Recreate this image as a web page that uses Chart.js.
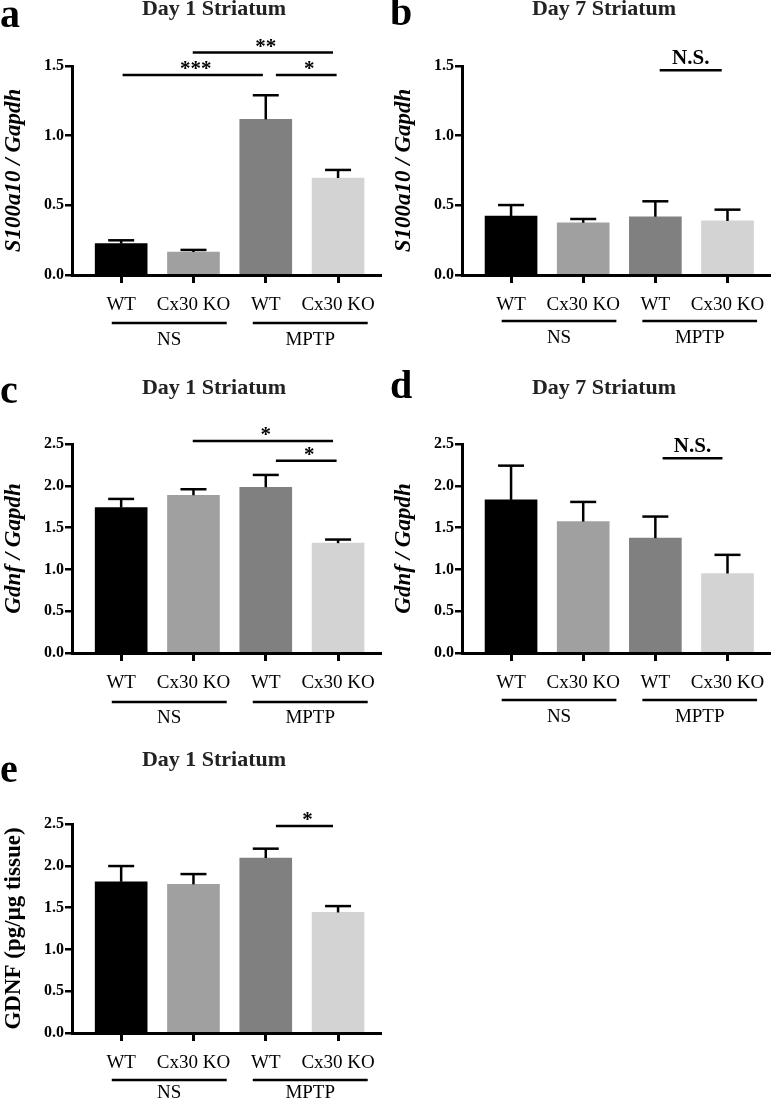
<!DOCTYPE html>
<html><head><meta charset="utf-8">
<script src="https://cdn.jsdelivr.net/npm/chart.js@4.4.1/dist/chart.umd.min.js"></script>
<style>
html,body{margin:0;padding:0;background:#fff;width:776px;height:1100px;overflow:hidden;position:relative}
.p{position:absolute}
canvas{display:block}
</style></head><body>
<div class="p" style="left:0;top:0"><canvas id="ca" width="390" height="360"></canvas></div>
<div class="p" style="left:390px;top:0"><canvas id="cb" width="386" height="360"></canvas></div>
<div class="p" style="left:0;top:370px"><canvas id="cc" width="390" height="360"></canvas></div>
<div class="p" style="left:390px;top:370px"><canvas id="cd" width="386" height="360"></canvas></div>
<div class="p" style="left:0;top:740px"><canvas id="ce" width="390" height="360"></canvas></div>
<script>
// ---- data ----
const categories = ['WT', 'Cx30 KO', 'WT', 'Cx30 KO'];
const groupLabels = ['NS', 'MPTP'];
const barColors = ['#000000', '#a0a0a0', '#808080', '#d3d3d3'];

const aMeans = [0.225, 0.165, 1.117, 0.696];
const aSem   = [0.024, 0.015, 0.173, 0.058];
const bMeans = [0.423, 0.375, 0.418, 0.388];
const bSem   = [0.079, 0.027, 0.111, 0.081];
const cMeans = [1.739, 1.887, 1.983, 1.314];
const cSem   = [0.104, 0.072, 0.147, 0.043];
const dMeans = [1.831, 1.572, 1.374, 0.951];
const dSem   = [0.410, 0.235, 0.258, 0.223];
const eMeans = [1.809, 1.778, 2.093, 1.442];
const eSem   = [0.188, 0.123, 0.112, 0.076];

const ticksS100 = [0, 0.5, 1.0, 1.5];
const ticksGdnf = [0, 0.5, 1.0, 1.5, 2.0, 2.5];

// significance annotations (category-index units, value units)
const sigA = [
  {x1: 0.02, x2: 1.96, y: 1.435, label: '***'},
  {x1: 0.99, x2: 2.93, y: 1.596, label: '**'},
  {x1: 2.14, x2: 2.98, y: 1.435, label: '*'}
];
const sigB = [{x1: 2.06, x2: 2.92, y: 1.469, label: 'N.S.'}];
const sigC = [
  {x1: 0.99, x2: 2.93, y: 2.536, label: '*'},
  {x1: 2.14, x2: 2.98, y: 2.30, label: '*'}
];
const sigD = [{x1: 2.10, x2: 2.93, y: 2.329, label: 'N.S.'}];
const sigE = [{x1: 2.14, x2: 2.93, y: 2.476, label: '*'}];
// group underline spans (category-index units)
const groupSpans = [[-0.13, 1.46], [1.82, 3.41]];

const SERIF = '"Liberation Serif", "Times New Roman", serif';

const decor = {
  id: 'decor',
  afterDraw(chart, args, o) {
    const ctx = chart.ctx, xs = chart.scales.x, ys = chart.scales.y, ca = chart.chartArea;
    const ds = chart.data.datasets[0];
    ctx.save();
    ctx.strokeStyle = '#000'; ctx.fillStyle = '#000'; ctx.lineCap = 'butt';
    // error bars (upper SEM)
    chart.getDatasetMeta(0).data.forEach((el, i) => {
      const top = ys.getPixelForValue(ds.data[i].y + ds.sem[i]);
      ctx.lineWidth = 2.5;
      ctx.beginPath(); ctx.moveTo(el.x, el.y); ctx.lineTo(el.x, top); ctx.stroke();
      ctx.beginPath(); ctx.moveTo(el.x - 13, top); ctx.lineTo(el.x + 13, top); ctx.stroke();
    });
    // significance
    ctx.textAlign = 'center'; ctx.textBaseline = 'alphabetic';
    o.sig.forEach(s => {
      const y = ys.getPixelForValue(s.y);
      const xa = xs.getPixelForValue(s.x1), xb = xs.getPixelForValue(s.x2);
      ctx.lineWidth = 2.5;
      ctx.beginPath(); ctx.moveTo(xa, y); ctx.lineTo(xb, y); ctx.stroke();
      ctx.font = 'bold 21px ' + SERIF;
      ctx.fillText(s.label, (xa + xb) / 2 + (s.label === 'N.S.' ? 0 : 3), s.label === 'N.S.' ? y - 6 : y);
    });
    // group underlines and labels
    groupSpans.forEach((g, k) => {
      const xa = xs.getPixelForValue(g[0]), xb = xs.getPixelForValue(g[1]);
      const y = ca.bottom + o.gl;
      ctx.lineWidth = 2.5;
      ctx.beginPath(); ctx.moveTo(xa, y); ctx.lineTo(xb, y); ctx.stroke();
      ctx.font = '19px ' + SERIF; ctx.textBaseline = 'middle';
      ctx.fillText(groupLabels[k], (xa + xb) / 2, ca.bottom + o.gt);
    });
    // panel letter
    ctx.textAlign = 'left'; ctx.textBaseline = 'alphabetic';
    ctx.font = 'bold 40px ' + SERIF;
    ctx.fillText(o.letter, o.lx, ca.top + o.ly);
    // title
    ctx.textAlign = 'center'; ctx.textBaseline = 'middle';
    ctx.fillStyle = '#222';
    ctx.font = 'bold 22px ' + SERIF;
    ctx.fillText(o.title, 214, ca.top + o.ty);
    // y-axis title
    ctx.fillStyle = '#000';
    ctx.translate(14, (ca.top + ca.bottom) / 2);
    ctx.rotate(-Math.PI / 2);
    ctx.font = (o.yItalic ? 'italic bold 23px ' : 'bold 23px ') + SERIF;
    ctx.fillText(o.ytitle, 0, 0);
    ctx.restore();
  }
};

function makeChart(id, means, sem, yMax, yTicks, pt, o) {
  const cv = document.getElementById(id);
  const H = cv.height, W = cv.width;
  return new Chart(cv, {
    type: 'bar',
    data: {
      datasets: [{
        data: means.map((v, i) => ({x: i, y: v})),
        sem: sem,
        backgroundColor: barColors,
        borderWidth: 0,
        barThickness: 52
      }]
    },
    options: {
      responsive: false, animation: false,
      layout: {padding: {top: pt, right: W - 380, bottom: 0, left: 0}},
      plugins: {legend: {display: false}, tooltip: {enabled: false}, title: {display: false}, decor: o},
      scales: {
        x: {
          type: 'linear', min: -0.68, max: 3.58, offset: false,
          afterFit(s) { s.height = H - pt - 209; },
          afterBuildTicks(s) { s.ticks = categories.map((c, i) => ({value: i})); },
          grid: {offset: false, drawOnChartArea: false, drawTicks: true, tickLength: 8, color: '#000', lineWidth: 3},
          border: {display: true, color: '#000', width: 3},
          ticks: {
            autoSkip: false, maxRotation: 0, padding: 11, color: '#000',
            font: {family: SERIF, size: 19},
            callback: (v) => categories[v]
          }
        },
        y: {
          min: 0, max: yMax,
          afterFit(s) { s.width = 72; },
          afterBuildTicks(s) { s.ticks = yTicks.map(v => ({value: v})); },
          grid: {drawOnChartArea: false, drawTicks: true, tickLength: 7, color: '#000', lineWidth: 2.5},
          border: {display: true, color: '#000', width: 3},
          ticks: {
            padding: 1, color: '#000',
            font: {family: SERIF, size: 16, weight: 'bold'},
            callback: (v) => Number(v).toFixed(1)
          }
        }
      }
    },
    plugins: [decor]
  });
}

makeChart('ca', aMeans, aSem, 1.5, ticksS100, 66,
  {letter: 'a', lx: 0, ly: -39, title: 'Day 1 Striatum', ty: -57, ytitle: 'S100a10 / Gapdh', yItalic: true, sig: sigA, gl: 48, gt: 65});
makeChart('cb', bMeans, bSem, 1.5, ticksS100, 66,
  {letter: 'b', lx: 0, ly: -41, title: 'Day 7 Striatum', ty: -57, ytitle: 'S100a10 / Gapdh', yItalic: true, sig: sigB, gl: 46, gt: 63});
makeChart('cc', cMeans, cSem, 2.5, ticksGdnf, 74,
  {letter: 'c', lx: 0, ly: -41, title: 'Day 1 Striatum', ty: -56, ytitle: 'Gdnf / Gapdh', yItalic: true, sig: sigC, gl: 49, gt: 65});
makeChart('cd', dMeans, dSem, 2.5, ticksGdnf, 74,
  {letter: 'd', lx: 0, ly: -46, title: 'Day 7 Striatum', ty: -56, ytitle: 'Gdnf / Gapdh', yItalic: true, sig: sigD, gl: 47, gt: 64});
makeChart('ce', eMeans, eSem, 2.5, ticksGdnf, 84,
  {letter: 'e', lx: 0, ly: -42, title: 'Day 1 Striatum', ty: -64, ytitle: 'GDNF (pg/μg tissue)', yItalic: false, sig: sigE, gl: 47, gt: 60});
</script>
</body></html>
